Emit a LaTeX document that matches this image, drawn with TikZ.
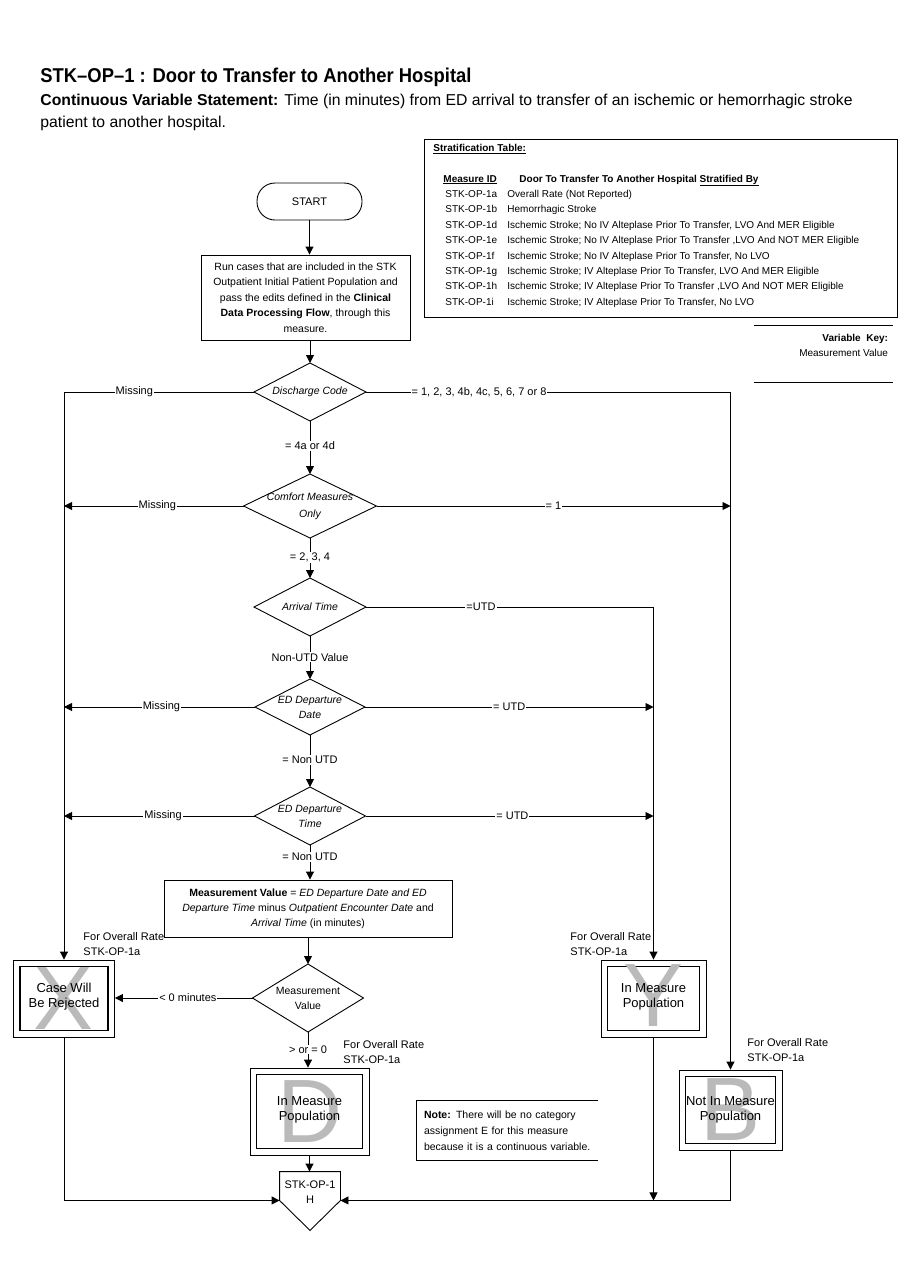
\documentclass[tikz,border=0pt]{standalone}
\usepackage{fontspec}
\setmainfont{Liberation Sans}
\newfontfamily\narrowfont[FakeStretch=0.92]{Liberation Sans}
\usetikzlibrary{shapes.geometric,arrows.meta,backgrounds}

\tikzset{
  decision/.style={diamond, draw, inner sep=0pt, outer sep=0pt},
  dtext/.style={align=center, inner sep=0pt, font=\fontsize{10.5}{15}\selectfont\itshape},
  process/.style={rectangle, draw, align=center, inner sep=2pt, font=\fontsize{10.5}{15.5}\selectfont},
  result/.style={rectangle, draw, align=center, inner sep=0pt, font=\fontsize{13}{15}\selectfont},
  bigletter/.style={text=black!27, inner sep=0pt, font=\fontsize{90}{90}\selectfont},
  lbl/.style={fill=white, inner sep=1pt, font=\fontsize{11}{13}\selectfont},
  side/.style={align=left, inner sep=0pt, font=\fontsize{11}{14.5}\selectfont},
  flow/.style={-{Triangle[length=8pt,width=8pt]}},
}

\begin{document}
\begin{tikzpicture}[x=1pt, y=-1pt, line width=0.9pt]
\useasboundingbox (0,0) rectangle (900,1286);

% heading
\node[anchor=base west, inner sep=0pt, font=\narrowfont\fontsize{20}{24}\selectfont\bfseries] (title) at (40,82) {STK–OP–1 : Door to Transfer to Another Hospital};
\node[anchor=base west, inner sep=0pt, font=\fontsize{15.75}{22}\selectfont] (stmt) at (40,105) {\textbf{Continuous Variable Statement:} Time (in minutes) from ED arrival to transfer of an ischemic or hemorrhagic stroke};
\node[anchor=base west, inner sep=0pt, font=\fontsize{15.75}{22}\selectfont] (stmt2) at ([yshift=-22pt]stmt.base west) {patient to another hospital.};

% stratification table
\node[draw, anchor=north west, minimum width=473pt, minimum height=178pt] (strat) at (424,139) {};
\node[anchor=north west, inner sep=0pt, font=\fontsize{10}{15.4}\selectfont] (strattab) at ([xshift=9pt,yshift=-1pt]strat.north west) {%
  \begin{tabular}{@{}p{74pt}@{}l@{}}
  \multicolumn{2}{@{}l}{\textbf{\underline{Stratification Table:}}}\\
  \\
  \hspace{10pt}\textbf{\underline{Measure ID}} & \hspace{12pt}\textbf{Door To Transfer To Another Hospital \underline{Stratified By}}\\
  \hspace{12pt}STK-OP-1a & Overall Rate (Not Reported)\\
  \hspace{12pt}STK-OP-1b & Hemorrhagic Stroke\\
  \hspace{12pt}STK-OP-1d & Ischemic Stroke; No IV Alteplase Prior To Transfer, LVO And MER Eligible\\
  \hspace{12pt}STK-OP-1e & Ischemic Stroke; No IV Alteplase Prior To Transfer ,LVO And NOT MER Eligible\\
  \hspace{12pt}STK-OP-1f & Ischemic Stroke; No IV Alteplase Prior To Transfer, No LVO\\
  \hspace{12pt}STK-OP-1g & Ischemic Stroke; IV Alteplase Prior To Transfer, LVO And MER Eligible\\
  \hspace{12pt}STK-OP-1h & Ischemic Stroke; IV Alteplase Prior To Transfer ,LVO And NOT MER Eligible\\
  \hspace{12pt}STK-OP-1i & Ischemic Stroke; IV Alteplase Prior To Transfer, No LVO
  \end{tabular}};

% variable key
\node[minimum width=139pt, minimum height=56pt] (keybox) at (823.5,354) {};
\node[anchor=north east, align=right, inner sep=0pt, font=\fontsize{10}{15}\selectfont] (keytext) at ([xshift=-5pt,yshift=-8pt]keybox.north east) {\textbf{Variable\ \ Key:}\\Measurement Value};
\draw (keybox.north west) -- (keybox.north east);
\draw (keybox.south west) -- (keybox.south east);

% flow nodes
\node[draw, rounded corners=18pt, minimum width=105pt, minimum height=37pt, font=\fontsize{11}{13}\selectfont] (start) at (309.5,201.5) {START};
\node[process, minimum width=209pt, minimum height=85pt] (run) at (305.5,297.5) {Run cases that are included in the STK\\Outpatient Initial Patient Population and\\pass the edits defined in the \textbf{Clinical}\\\textbf{Data Processing Flow}, through this\\measure.};
\node[decision, minimum width=112pt, minimum height=58pt, label={[dtext]center:Discharge Code}] (disc) at (310,392) {};
\node[decision, minimum width=133pt, minimum height=64pt, label={[dtext, font=\fontsize{10.5}{17}\selectfont\itshape]center:Comfort Measures\\Only}] (comf) at (310,506) {};
\node[decision, minimum width=112pt, minimum height=58pt, label={[dtext]center:Arrival Time}] (arr) at (310,607) {};
\node[decision, minimum width=110pt, minimum height=56pt, label={[dtext]center:ED Departure\\Date}] (edd) at (310,707) {};
\node[decision, minimum width=111pt, minimum height=58pt, label={[dtext]center:ED Departure\\Time}] (edt) at (310,816) {};
\node[process, minimum width=288pt, minimum height=57pt, font=\fontsize{10.5}{15}\selectfont] (meas) at (308,908.5) {\textbf{Measurement Value} = \textit{ED Departure Date and ED}\\\textit{Departure Time} minus \textit{Outpatient Encounter Date} and\\\textit{Arrival Time} (in minutes)};
\node[decision, minimum width=111pt, minimum height=68pt, label={[dtext, font=\fontsize{10.5}{15}\selectfont]center:Measurement\\Value}] (mv) at (308,998) {};

% result boxes
\node[result, minimum width=101pt, minimum height=77pt] (rej) at (64,998.5) {};
\node[result, minimum width=105pt, minimum height=77pt] (yes) at (653.5,998.5) {};
\node[result, minimum width=119pt, minimum height=87pt] (dpop) at (309.5,1111.5) {};
\node[result, minimum width=103pt, minimum height=80pt] (nib) at (730.5,1110) {};
\foreach \n in {rej,yes,dpop,nib}
  \draw[line width=1.6pt] ([xshift=7pt,yshift=-7pt]\n.north west) rectangle ([xshift=-7pt,yshift=7pt]\n.south east);
\node[bigletter] (rejx) at (rej) {X};
\node[bigletter] (yesy) at ([yshift=3pt]yes.center) {Y};
\node[bigletter] (dpopd) at (dpop) {D};
\node[bigletter] (nibb) at (nib) {B};
\node[result, draw=none] (rejtext) at ([yshift=1.5pt]rej.center) {Case Will\\Be Rejected};
\node[result, draw=none] (yestext) at ([yshift=1.5pt]yes.center) {In Measure\\Population};
\node[result, draw=none] (dpoptext) at ([yshift=2pt]dpop.center) {In Measure\\Population};
\node[result, draw=none] (nibtext) at ([yshift=0.5pt]nib.center) {Not In Measure\\Population};

\node[side, anchor=south west] (rejrate) at ([xshift=19pt,yshift=4pt]rej.north) {For Overall Rate\\STK-OP-1a};
\node[side, anchor=south west] (yesrate) at ([xshift=-83.5pt,yshift=4pt]yes.north) {For Overall Rate\\STK-OP-1a};
\node[side, anchor=south west] (dpoprate) at ([xshift=33.5pt,yshift=4pt]dpop.north) {For Overall Rate\\STK-OP-1a};
\node[side, anchor=south west] (nibrate) at ([xshift=16.5pt,yshift=8pt]nib.north) {For Overall Rate\\STK-OP-1a};

% note
\node[minimum width=181pt, minimum height=59pt, inner xsep=7pt, inner ysep=0pt, text width=167pt, align=left, font=\fontsize{10.5}{16}\selectfont] (notebox) at (507.5,1130.5) {\textbf{Note:} There will be no category\\assignment E for this measure\\because it is a continuous variable.};
\draw (notebox.north east) -- (notebox.north west) -- (notebox.south west) -- (notebox.south east);

% off page connector
\node[minimum width=60pt, minimum height=28pt, inner sep=0pt] (conn) at (310,1186) {};
\node[align=center, inner sep=0pt, font=\fontsize{11}{15}\selectfont] (conntext) at ([yshift=-6.5pt]conn.center) {STK-OP-1\\H};
\draw (conn.south west) -- (conn.north west) -- (conn.north east) -- (conn.south east) -- ([yshift=-30pt]conn.south) -- cycle;

% main line
\draw[flow] (start.south) -- (start.south |- run.north);
\draw[flow] (run.south -| disc.north) -- (disc.north);
\draw[flow] (disc.south) -- node[lbl, pos=0.47] {= 4a or 4d} (comf.north);
\draw[flow] (comf.south) -- node[lbl, pos=0.48] {= 2, 3, 4} (arr.north);
\draw[flow] (arr.south) -- node[lbl, pos=0.49] {Non-UTD Value} (edd.north);
\draw[flow] (edd.south) -- node[lbl, pos=0.48] {= Non UTD} (edt.north);
\draw[flow] (edt.south) -- node[lbl, pos=0.34] {= Non UTD} (edt.south |- meas.north);
\draw[flow] (meas.south -| mv.north) -- (mv.north);
\draw[flow] (mv.south) -- node[lbl, pos=0.49] {> or = 0} (mv.south |- dpop.north);
\draw[flow] (dpop.south) -- (dpop.south |- conn.north);

% missing branches
\draw[flow] (disc.west) -- node[lbl, pos=0.63] {Missing} (disc.west -| rej.north) -- (rej.north);
\draw[flow] (comf.west) -- node[lbl, pos=0.48] {Missing} (comf.west -| rej.north);
\draw[flow] (edd.west) -- node[lbl, pos=0.49] {Missing} (edd.west -| rej.north);
\draw[flow] (edt.west) -- node[lbl, pos=0.48] {Missing} (edt.west -| rej.north);
\draw[flow] (mv.west) -- node[lbl, pos=0.47] {< 0 minutes} (mv.west -| rej.east);

% right branches
\draw[flow] (disc.east) -- node[lbl, pos=0.31] {= 1, 2, 3, 4b, 4c, 5, 6, 7 or 8} (disc.east -| nib.north) -- (nib.north);
\draw[flow] (comf.east) -- node[lbl, pos=0.5] {= 1} (comf.east -| nib.north);
\draw[flow] (arr.east) -- node[lbl, pos=0.4] {=UTD} (arr.east -| yes.north) -- (yes.north);
\draw[flow] (edd.east) -- node[lbl, pos=0.5] {= UTD} (edd.east -| yes.north);
\draw[flow] (edt.east) -- node[lbl, pos=0.51] {= UTD} (edt.east -| yes.north);

% into connector
\draw[flow] (rej.south) -- (rej.south |- conn.south west) -- (conn.south west);
\draw[flow] (nib.south) -- (nib.south |- conn.south east) -- (conn.south east);
\draw[flow] (yes.south) -- (yes.south |- conn.south east);
\end{tikzpicture}
\end{document}
